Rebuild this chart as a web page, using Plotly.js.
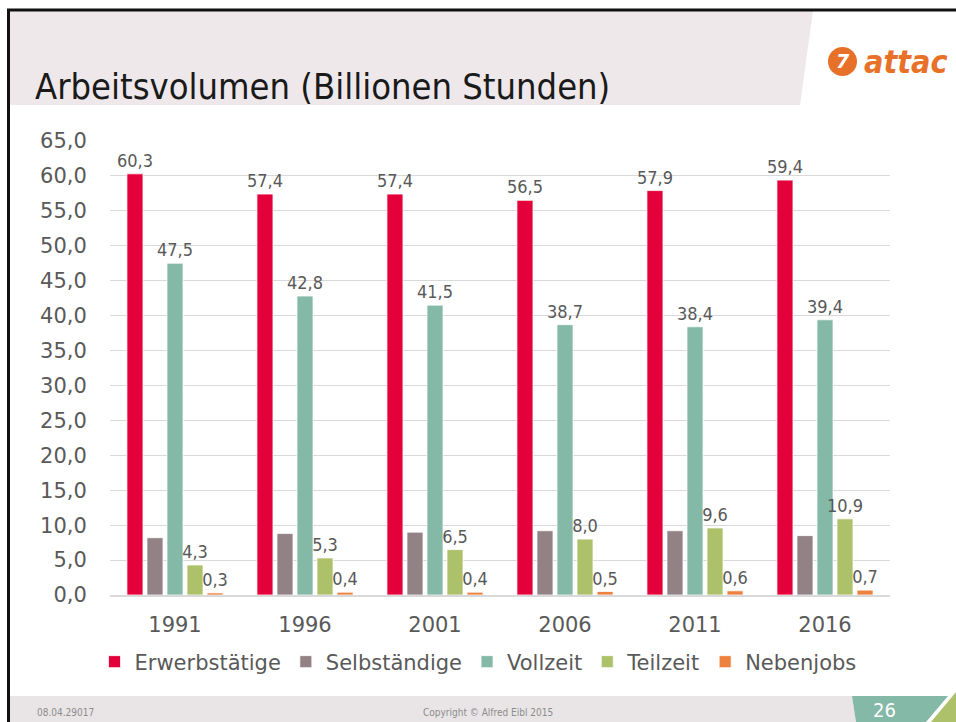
<!DOCTYPE html>
<html>
<head>
<meta charset="utf-8">
<script src="https://cdn.plot.ly/plotly-3.0.1.min.js"></script>
<style>html,body{margin:0;padding:0;background:#fff;}#chart{width:956px;height:722px;}</style>
</head>
<body>
<div id="chart"></div>
<script>
// ---- data ----
const years = ['1991', '1996', '2001', '2006', '2011', '2016'];
const erwerbstaetige = [60.3, 57.4, 57.4, 56.5, 57.9, 59.4];
const selbstaendige = [8.2, 8.8, 9.0, 9.2, 9.2, 8.5];
const vollzeit = [47.5, 42.8, 41.5, 38.7, 38.4, 39.4];
const teilzeit = [4.3, 5.3, 6.5, 8.0, 9.6, 10.9];
const nebenjobs = [0.3, 0.4, 0.4, 0.5, 0.6, 0.7];
const seriesNames = ['Erwerbstätige', 'Selbständige', 'Vollzeit', 'Teilzeit', 'Nebenjobs'];
const yTicks = [0, 5, 10, 15, 20, 25, 30, 35, 40, 45, 50, 55, 60, 65];

// ---- styling ----
const colors = ['#E4003A', '#928185', '#84B8A7', '#ADC06A', '#ED8240'];
const labelFont = {family: 'Liberation Sans Narrow, DejaVu Sans Condensed, sans-serif', size: 18, color: '#595959'};
const W = 956, H = 722, L = 110, R = 66, T = 141, B = 127;
const PW = W - L - R, PH = H - T - B;
const px = x => (x - L) / PW;
const py = y => (H - B - y) / PH;

function barTrace(name, vals, color, showText) {
  const txt = vals.map(v => showText ? v.toFixed(1).replace('.', ',') : '');
  return {
    type: 'bar', name: name, x: years, y: vals,
    marker: {color: color, line: {color: 'rgba(255,255,255,0.75)', width: 1}},
    text: txt, textposition: 'outside', textfont: labelFont,
    constraintext: 'none', cliponaxis: false
  };
}

const data = [
  barTrace(seriesNames[0], erwerbstaetige, colors[0], true),
  barTrace(seriesNames[1], selbstaendige, colors[1], false),
  barTrace(seriesNames[2], vollzeit, colors[2], true),
  barTrace(seriesNames[3], teilzeit, colors[3], true),
  barTrace(seriesNames[4], nebenjobs, colors[4], true)
];

const shapes = [
  {type: 'path', xref: 'paper', yref: 'paper', layer: 'below',
   path: `M${px(10)},${py(11)} L${px(813)},${py(11)} L${px(800)},${py(105)} L${px(10)},${py(105)} Z`,
   fillcolor: '#EEE8EA', line: {width: 0}},
  {type: 'path', xref: 'paper', yref: 'paper', layer: 'below',
   path: `M${px(10)},${py(696)} L${px(852)},${py(696)} L${px(856)},${py(722)} L${px(10)},${py(722)} Z`,
   fillcolor: '#E9E5E7', line: {width: 0}},
  {type: 'path', xref: 'paper', yref: 'paper', layer: 'below',
   path: `M${px(852)},${py(696)} L${px(948)},${py(696)} L${px(926)},${py(722)} L${px(856)},${py(722)} Z`,
   fillcolor: '#84B8A7', line: {width: 0}},
  {type: 'path', xref: 'paper', yref: 'paper', layer: 'below',
   path: `M${px(956)},${py(692)} L${px(956)},${py(722)} L${px(931)},${py(722)} Z`,
   fillcolor: '#ADC06A', line: {width: 0}},
  {type: 'line', xref: 'paper', yref: 'paper', x0: px(7), x1: px(956), y0: py(10), y1: py(10),
   line: {color: '#111', width: 3}},
  {type: 'line', xref: 'paper', yref: 'paper', x0: px(8.5), x1: px(8.5), y0: py(9), y1: py(722),
   line: {color: '#111', width: 3}},
  {type: 'circle', xref: 'paper', yref: 'paper',
   x0: px(828), x1: px(857), y0: py(47), y1: py(76), fillcolor: '#E8712A', line: {width: 0}}
];

const annotations = [
  {xref: 'paper', yref: 'paper', x: px(862), y: py(62), xanchor: 'left', yanchor: 'middle',
   text: '<b><i>attac</i></b>', showarrow: false,
   font: {family: 'DejaVu Sans Condensed, DejaVu Sans, sans-serif', size: 32, color: '#E8712A'}},
  {xref: 'paper', yref: 'paper', x: px(842.5), y: py(61.5), xanchor: 'center', yanchor: 'middle',
   text: '<b><i>7</i></b>', showarrow: false,
   font: {family: 'DejaVu Sans, sans-serif', size: 19, color: '#ffffff'}},
  {xref: 'paper', yref: 'paper', x: px(35), y: py(712), xanchor: 'left', yanchor: 'middle',
   text: '08.04.29017', showarrow: false,
   font: {family: 'DejaVu Sans Condensed, sans-serif', size: 10, color: '#8C8C8C'}},
  {xref: 'paper', yref: 'paper', x: px(488), y: py(712), xanchor: 'center', yanchor: 'middle',
   text: 'Copyright © Alfred Eibl 2015', showarrow: false,
   font: {family: 'DejaVu Sans Condensed, sans-serif', size: 10, color: '#8C8C8C'}},
  {xref: 'paper', yref: 'paper', x: px(884), y: py(710), xanchor: 'center', yanchor: 'middle',
   text: '26', showarrow: false,
   font: {family: 'DejaVu Sans Condensed, sans-serif', size: 20, color: '#ffffff'}}
];

const layout = {
  width: W, height: H,
  margin: {l: L, r: R, t: T, b: B},
  paper_bgcolor: '#ffffff', plot_bgcolor: '#ffffff',
  separators: ',.',
  barmode: 'group', bargap: 0.23, bargroupgap: 0.2,
  title: {
    text: 'Arbeitsvolumen (Billionen Stunden)',
    x: 35 / W, xanchor: 'left', xref: 'container',
    y: 1 - 86 / H, yanchor: 'middle', yref: 'container',
    font: {family: 'DejaVu Sans Condensed, DejaVu Sans, sans-serif', size: 36, color: '#1a1a1a'}
  },
  xaxis: {
    type: 'category', showgrid: false, ticks: 'outside', ticklen: 10, tickcolor: 'rgba(0,0,0,0)',
    showline: true, linecolor: '#D9D9D9', linewidth: 2,
    tickfont: {family: 'DejaVu Sans, Verdana, sans-serif', size: 21, color: '#595959'}
  },
  yaxis: {
    range: [0, 65], tickvals: yTicks, tickformat: '.1f',
    showgrid: true, gridcolor: '#D9D9D9', gridwidth: 1,
    zeroline: false, showline: false, ticks: 'outside', ticklen: 18, tickcolor: 'rgba(0,0,0,0)',
    tickfont: {family: 'DejaVu Sans, Verdana, sans-serif', size: 21, color: '#595959'}
  },
  showlegend: true,
  legend: {
    orientation: 'h', xref: 'container', yref: 'container',
    x: 478 / W, xanchor: 'center', y: 1 - 662 / H, yanchor: 'middle',
    font: {family: 'DejaVu Sans, Verdana, sans-serif', size: 21, color: '#595959'},
    traceorder: 'normal', bgcolor: 'rgba(0,0,0,0)'
  },
  shapes: shapes,
  annotations: annotations
};

Plotly.newPlot('chart', data, layout, {displayModeBar: false});
</script>
</body>
</html>
